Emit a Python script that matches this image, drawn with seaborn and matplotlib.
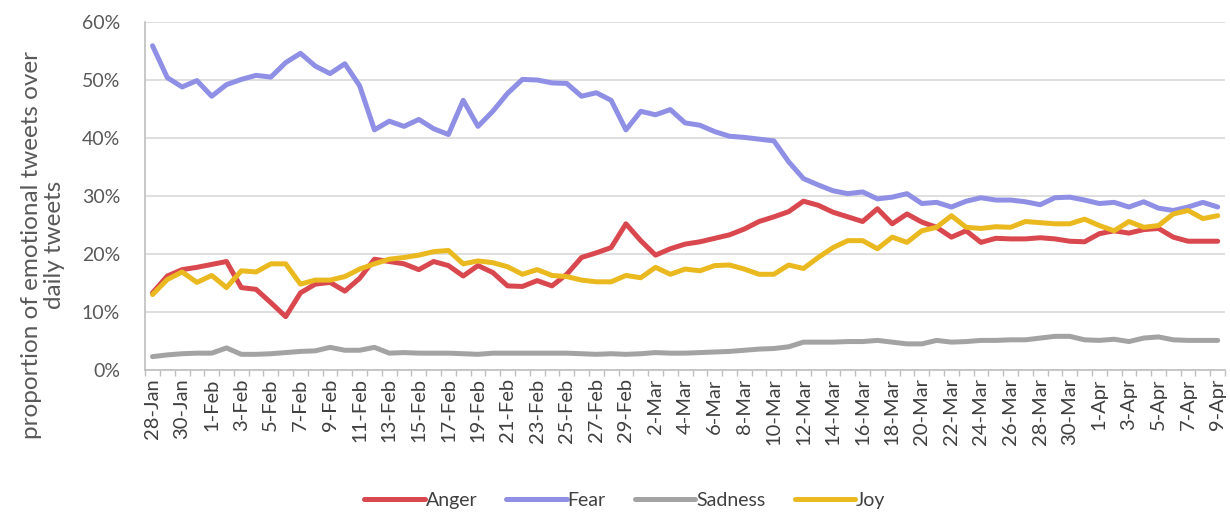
import numpy as np
import pandas as pd
import matplotlib
matplotlib.use('Agg')
import matplotlib.pyplot as plt
import seaborn as sns
from matplotlib.ticker import PercentFormatter, MultipleLocator

# daily share of emotional tweets (%), 28-Jan .. 9-Apr 2020
dates = pd.date_range('2020-01-28', '2020-04-09', freq='D')
day_labels = [f'{d.day}-{d.strftime("%b")}' for d in dates]

anger = [13.3, 16.2, 17.3, 17.7, 18.2, 18.7, 14.2, 13.9, 11.6, 9.2, 13.3, 14.8, 15.1, 13.6, 15.8,
         19.1, 18.7, 18.3, 17.3, 18.7, 18.0, 16.2, 18.0, 16.8, 14.5,
         14.4, 15.4, 14.5, 16.5, 19.4, 20.2, 21.1, 25.2, 22.3, 19.8, 20.9, 21.7, 22.1, 22.7, 23.3,
         24.3, 25.6, 26.4, 27.3, 29.1, 28.4, 27.2, 26.4, 25.6, 27.8,
         25.2, 26.9, 25.5, 24.6, 22.9, 24.0, 22.0, 22.7, 22.6, 22.6, 22.8, 22.6, 22.2, 22.1, 23.5,
         24.0, 23.6, 24.2, 24.4, 22.9, 22.2, 22.2, 22.2]
fear = [55.9, 50.4, 48.8, 49.9, 47.2, 49.2, 50.1, 50.8, 50.5, 53.0, 54.6, 52.4, 51.1, 52.8, 49.0,
        41.4, 42.9, 42.0, 43.2, 41.6, 40.6, 46.5, 42.0, 44.6, 47.7,
        50.1, 50.0, 49.5, 49.4, 47.2, 47.8, 46.5, 41.4, 44.6, 44.0, 44.9, 42.6, 42.2, 41.1, 40.3,
        40.1, 39.8, 39.5, 35.9, 33.0, 31.9, 30.9, 30.4, 30.7, 29.5,
        29.8, 30.4, 28.7, 28.9, 28.1, 29.1, 29.7, 29.3, 29.3, 29.0, 28.5, 29.7, 29.8, 29.3, 28.7,
        28.9, 28.1, 29.0, 27.9, 27.5, 28.1, 28.9, 28.1]
sadness = [2.3, 2.6, 2.8, 2.9, 2.9, 3.8, 2.7, 2.7, 2.8, 3.0, 3.2, 3.3, 3.9, 3.4, 3.4,
           3.9, 2.9, 3.0, 2.9, 2.9, 2.9, 2.8, 2.7, 2.9, 2.9,
           2.9, 2.9, 2.9, 2.9, 2.8, 2.7, 2.8, 2.7, 2.8, 3.0, 2.9, 2.9, 3.0, 3.1, 3.2,
           3.4, 3.6, 3.7, 4.0, 4.8, 4.8, 4.8, 4.9, 4.9, 5.1,
           4.8, 4.5, 4.5, 5.1, 4.8, 4.9, 5.1, 5.1, 5.2, 5.2, 5.5, 5.8, 5.8, 5.2, 5.1,
           5.3, 4.9, 5.5, 5.7, 5.2, 5.1, 5.1, 5.1]
joy = [13.0, 15.6, 16.9, 15.1, 16.3, 14.2, 17.1, 16.9, 18.3, 18.3, 14.8, 15.5, 15.5, 16.1, 17.4,
       18.3, 19.1, 19.4, 19.8, 20.4, 20.6, 18.3, 18.8, 18.5, 17.8,
       16.5, 17.3, 16.3, 16.1, 15.5, 15.2, 15.2, 16.3, 15.9, 17.7, 16.5, 17.4, 17.1, 18.0, 18.1,
       17.4, 16.5, 16.5, 18.1, 17.5, 19.4, 21.1, 22.3, 22.3, 20.9,
       22.9, 22.0, 24.0, 24.6, 26.6, 24.6, 24.4, 24.7, 24.6, 25.6, 25.4, 25.2, 25.2, 26.0, 24.9,
       24.0, 25.6, 24.6, 24.9, 26.9, 27.5, 26.1, 26.6]

emotions = ['Anger', 'Fear', 'Sadness', 'Joy']
colors = ['#d9484e', '#8f8fe6', '#a3a3a3', '#eab920']

df = pd.DataFrame({'day': np.arange(len(dates)), 'Anger': anger, 'Fear': fear,
                   'Sadness': sadness, 'Joy': joy})
df_long = df.melt(id_vars='day', var_name='emotion', value_name='pct')
df_long['pct'] = df_long['pct'] / 100

sns.set_style('white')
plt.rcParams['font.family'] = ['Lato', 'DejaVu Sans']

fig = plt.figure(figsize=(12.3, 5.15), dpi=100)
ax = fig.add_axes([0.118, 0.2816, 0.878, 0.6757])

ax.yaxis.grid(True, color='#d9d9d9', linewidth=1.2)
ax.set_axisbelow(True)
sns.lineplot(data=df_long, x='day', y='pct', hue='emotion', hue_order=emotions,
             palette=colors, linewidth=3.6, ax=ax, legend=True)

ax.set_ylim(0, 0.6)
ax.yaxis.set_major_locator(MultipleLocator(0.1))
ax.yaxis.set_major_formatter(PercentFormatter(1.0, decimals=0))
ax.set_xlim(-0.5, len(dates) - 0.5)
ax.set_xticks(np.arange(0, len(dates), 2))
ax.set_xticklabels(day_labels[::2], rotation=90)
ax.set_xticks(np.arange(-0.5, len(dates), 1), minor=True)
ax.tick_params(axis='x', which='major', length=0, pad=6, labelsize=14.5, colors='#404040')
ax.tick_params(axis='x', which='minor', length=4, color='#bfbfbf', width=1, direction='out',
               bottom=True)
ax.tick_params(axis='y', length=0, pad=18, labelsize=14, colors='#595959')

for b in ['top', 'right']:
    ax.spines[b].set_visible(False)
for b in ['left', 'bottom']:
    ax.spines[b].set_color('#bfbfbf')
    ax.spines[b].set_linewidth(1.2)

ax.set_xlabel('')
ax.set_ylabel('proportion of emotional tweets over\ndaily tweets', fontsize=17.5,
              color='#595959', linespacing=1.15)
ax.yaxis.set_label_coords(-0.074, 0.36)   # centred a bit below the axes middle, as in Excel

handles, labels = ax.get_legend_handles_labels()
ax.legend(handles, labels, loc='center', bbox_to_anchor=(0.508, 0.028),
          bbox_transform=fig.transFigure, ncol=4, frameon=False, fontsize=14,
          handlelength=3.1, handletextpad=0.05, columnspacing=1.5,
          labelcolor='#404040')

fig.savefig('out.png', dpi=100)
